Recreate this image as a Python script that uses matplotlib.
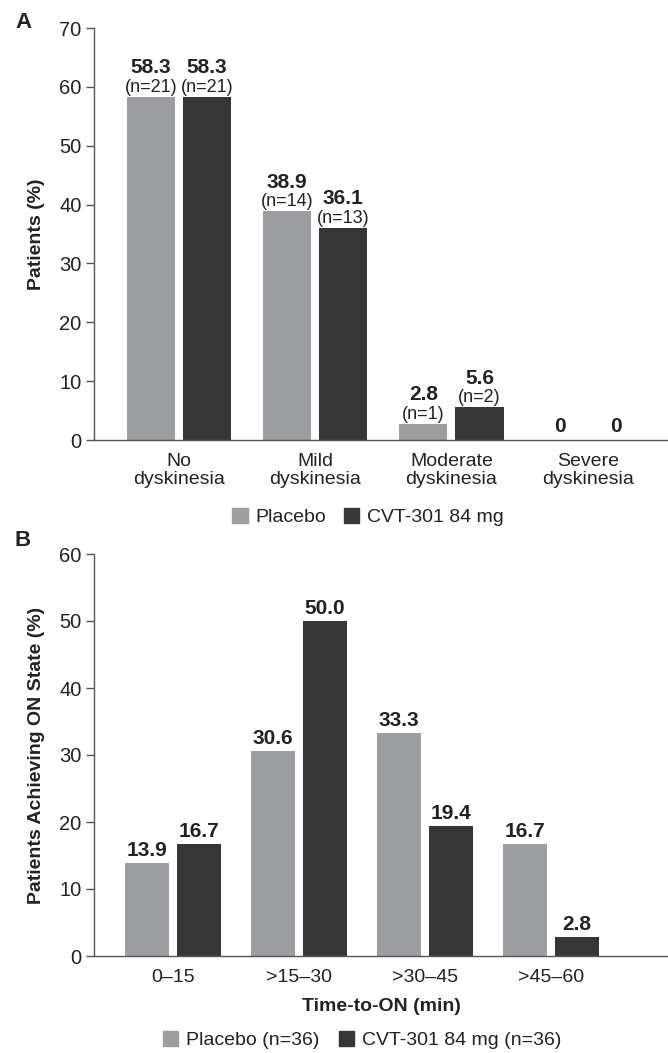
import matplotlib
import numpy as np

matplotlib.use("Agg")
import matplotlib.pyplot as plt
from matplotlib.patches import Patch

plt.rcParams["font.family"] = ["Liberation Sans", "DejaVu Sans"]
TEXT = "#222222"
PLACEBO_COLOR = "#9d9ea1"
DRUG_COLOR = "#363636"
SPINE = "#555555"

# Panel A
severity = ["No\ndyskinesia", "Mild\ndyskinesia", "Moderate\ndyskinesia", "Severe\ndyskinesia"]
placebo_a = [58.3, 38.9, 2.8, 0]
drug_a = [58.3, 36.1, 5.6, 0]
placebo_a_n = [21, 14, 1, None]
drug_a_n = [21, 13, 2, None]

# Panel B
time_bins = ["0\u201315", ">15\u201330", ">30\u201345", ">45\u201360"]
placebo_b = [13.9, 30.6, 33.3, 16.7]
drug_b = [16.7, 50.0, 19.4, 2.8]


def fmt(v):
    return "0" if v == 0 else f"{v:.1f}"


def style_axes(ax, ymax):
    ax.set_ylim(0, ymax)
    ax.set_yticks(np.arange(0, ymax + 1, 10))
    for side in ("top", "right"):
        ax.spines[side].set_visible(False)
    for side in ("left", "bottom"):
        ax.spines[side].set_color(SPINE)
        ax.spines[side].set_linewidth(1.0)
    ax.tick_params(axis="y", length=6, width=1.0, color=SPINE, labelsize=14.5, labelcolor=TEXT, pad=3)
    ax.tick_params(axis="x", length=0, labelsize=14, labelcolor=TEXT, pad=9)


fig = plt.figure(figsize=(6.68, 10.53), dpi=100)

# ---- Panel A ----
ax_a = fig.add_axes([94 / 668, 1 - 440 / 1053, 574 / 668, 412 / 1053])
x = np.arange(len(severity))
w = 48 / 136
off = 28 / 136
ax_a.bar(x - off, placebo_a, w, color=PLACEBO_COLOR)
ax_a.bar(x + off, drug_a, w, color=DRUG_COLOR)
ax_a.set_xlim(-0.625, 3.59)
style_axes(ax_a, 70)
ax_a.set_xticks(x)
ax_a.set_xticklabels(severity, linespacing=1.1)
ax_a.set_ylabel("Patients (%)", fontsize=14, fontweight="bold", color=TEXT, labelpad=10)

for xs, vals, ns in ((x - off, placebo_a, placebo_a_n), (x + off, drug_a, drug_a_n)):
    for xi, v, n in zip(xs, vals, ns):
        if n is None:
            ax_a.annotate(fmt(v), (xi, v), xytext=(0, 3), textcoords="offset points",
                          ha="center", va="bottom", fontsize=15, fontweight="bold", color=TEXT)
        else:
            ax_a.annotate(f"(n={n})", (xi, v), xytext=(0, 0.5), textcoords="offset points",
                          ha="center", va="bottom", fontsize=13, color=TEXT)
            ax_a.annotate(fmt(v), (xi, v), xytext=(0, 14), textcoords="offset points",
                          ha="center", va="bottom", fontsize=15, fontweight="bold", color=TEXT)

fig.text(15 / 668, 1 - 22 / 1053, "A", fontsize=16, fontweight="bold", color=TEXT,
         ha="left", va="center")

handles_a = [Patch(color=PLACEBO_COLOR, label="Placebo"), Patch(color=DRUG_COLOR, label="CVT-301 84 mg")]
fig.legend(handles=handles_a, loc="center", bbox_to_anchor=(368 / 668, 1 - 517 / 1053), ncol=2,
           frameon=False, fontsize=14, handlelength=0.8, handleheight=0.8, handletextpad=0.4,
           columnspacing=0.9, labelcolor=TEXT)

# ---- Panel B ----
ax_b = fig.add_axes([94 / 668, 1 - 956 / 1053, 574 / 668, 402 / 1053])
x = np.arange(len(time_bins))
w = 44 / 126
off = 26 / 126
ax_b.bar(x - off, placebo_b, w, color=PLACEBO_COLOR)
ax_b.bar(x + off, drug_b, w, color=DRUG_COLOR)
ax_b.set_xlim(-0.627, 3.929)
style_axes(ax_b, 60)
ax_b.set_xticks(x)
ax_b.set_xticklabels(time_bins)
ax_b.set_ylabel("Patients Achieving ON State (%)", fontsize=14, fontweight="bold", color=TEXT, labelpad=10)
ax_b.set_xlabel("Time-to-ON (min)", fontsize=14, fontweight="bold", color=TEXT, labelpad=9)

for xs, vals in ((x - off, placebo_b), (x + off, drug_b)):
    for xi, v in zip(xs, vals):
        ax_b.annotate(fmt(v), (xi, v), xytext=(0, 2), textcoords="offset points",
                      ha="center", va="bottom", fontsize=15, fontweight="bold", color=TEXT)

fig.text(15 / 668, 1 - 540 / 1053, "B", fontsize=16, fontweight="bold", color=TEXT,
         ha="left", va="center")

handles_b = [Patch(color=PLACEBO_COLOR, label="Placebo (n=36)"),
             Patch(color=DRUG_COLOR, label="CVT-301 84 mg (n=36)")]
fig.legend(handles=handles_b, loc="center", bbox_to_anchor=(362 / 668, 1 - 1040 / 1053), ncol=2,
           frameon=False, fontsize=14, handlelength=0.8, handleheight=0.8, handletextpad=0.4,
           columnspacing=1.0, labelcolor=TEXT)

fig.savefig("out.png", dpi=100)
